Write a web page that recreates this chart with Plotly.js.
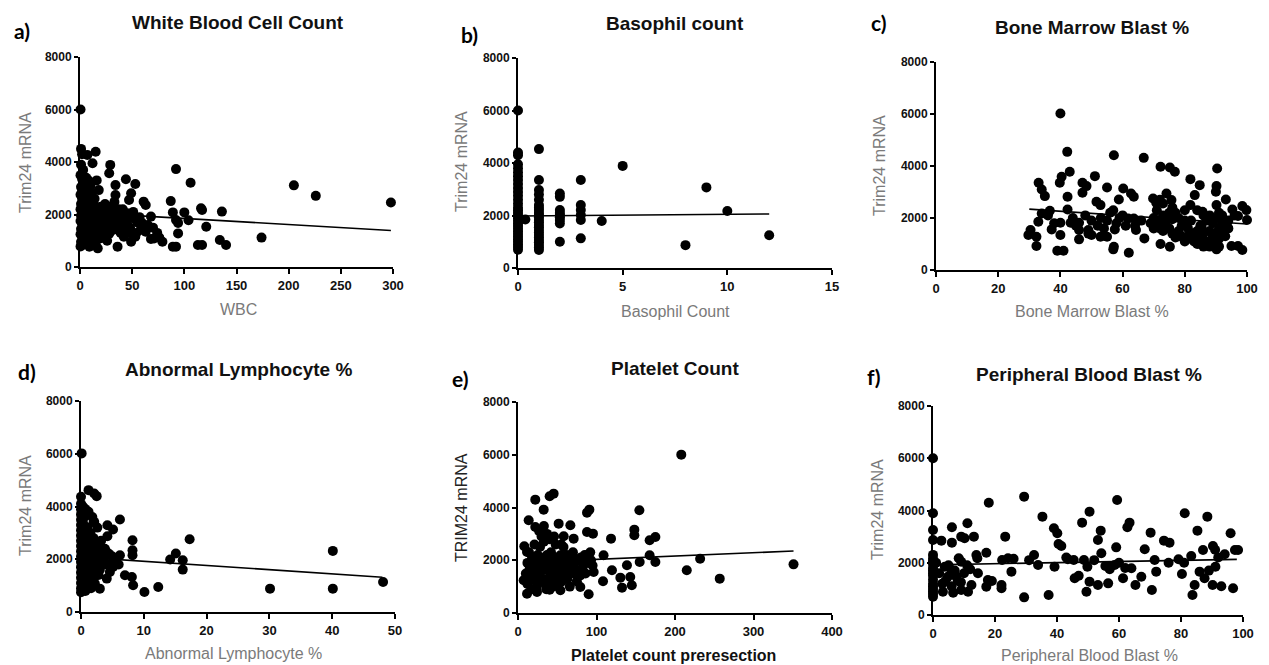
<!DOCTYPE html>
<html>
<head>
<meta charset="utf-8">
<script src="https://cdn.plot.ly/plotly-3.0.1.min.js"></script>
<style>html,body{margin:0;padding:0;background:#fff;}#chart{width:1269px;height:665px;}</style>
</head>
<body>
<div id="chart"></div>
<script>
// ---------- Data ----------
// a) White Blood Cell Count
const wbcX = [0.5,1,2,1,3,0.5,2,4,1,3, 0.5,2,5,1,3,0.5,2,4,1,3, 0.5,2,5,1,3,0.5,2,4,1,3,
  0.5,6,7,8,9,6,10,11,12,13, 8,10,14,7,12,15,18,16,20,22, 24,19,25,17,9,15,21,26,28,23,
  28,30,32,29,28,34,34,33,36,37, 36,40,42,44,44,45,47,49,49,50, 52,53,53,55,58,61,63,62,63,68,
  68,71,76,79,87,89,89,92,92,92, 94,94,100,104,106,113,116,117,117,121, 134,136,140,174,205,226,298,
  6,8,10,12,14,16,18,20,11,13, 5,7,9,3,24,26,30,38,41,46,
  3,5,7,9,11,13,15,17,19,21, 23,25,27,29,31,33,35,37,39,41, 43,46,48,51,54,57,59,65,70,74,
  6,10,14,20,26,2,4,8,5,16];
const wbcY = [6000,4500,4300,3900,3700,3500,3350,3200,3050,2900, 2750,2600,2500,2400,2300,2200,2100,2050,1950,1850,
  1750,1650,1550,1450,1350,1250,1150,1050,950,850,
  780,3400,2200,1800,2700,1200,3100,2000,1600,2400, 1000,1300,2200,4270,3950,4390,2930,1900,2300,1700,
  2100,1450,1200,710,775,890,2100,1800,2050,1530,
  1270,1600,2200,3890,3570,3120,2740,2480,2000,1400, 775,1900,1155,3340,1530,2050,2550,2810,965,1970,
  1850,3160,1155,1700,1410,2490,2360,1530,1340,1920,
  1070,1090,1120,965,2510,2080,775,775,3730,1790, 1280,1680,2080,1780,3210,840,2235,2170,840,1535,
  1030,2110,840,1120,3110,2710,2460,
  2600,2400,2200,1900,1700,1500,1300,1100,2800,1100, 900,1500,1900,3100,2400,1000,2300,1700,2200,1300,
  1600,2200,1900,1400,2300,1800,1300,2100,1700,1500, 2000,1800,1500,2100,1400,1800,1600,2200,1300,1700,
  2000,1800,1500,2100,1300,1900,1700,1600,1500,1300,
  1700,2500,2600,1900,2300,2900,2700,3300,3000,3300];
const wbcFitX = [0, 298];
const wbcFitY = [2080, 1390];

// b) Basophil count
const basoX = [0,0,0,0,0,0,0,0,0,0, 0,0,0,0,0,0,0,0,0,0, 0,0,0,0,0,0,0,0,0,0, 0, 0.35,
  1,1,1,1,1,1,1,1,1,1, 1,1,1,1,1,1,1,1,1,1, 1,1,1,1,
  2,2,2,2,2,2,2,2,2, 3,3,3,3,3,3, 4,5,8,9,10,12];
const basoY = [6000,4400,4300,3950,3800,3650,3500,3350,3200,3050, 2900,2750,2600,2450,2300,2200,2100,2000,1900,1800,
  1700,1600,1500,1400,1300,1200,1100,1000,900,800, 700, 1850,
  4530,3350,2970,2800,2600,2400,2300,2210,2100,2020, 1930,1830,1740,1640,1550,1450,1350,1260,1160,1070, 980,880,780,690,
  2840,2710,2210,2100,2020,1930,1830,1700,1000, 3350,2400,2210,2020,1830,1130, 1790,3890,870,3070,2170,1250];
const basoFitX = [0, 12];
const basoFitY = [1980, 2060];

// c) Bone Marrow Blast %
const bmX = [40,42.2,43,40.4,39.8,33,34,35,42.3,57.2, 66.8,51.1,47.1,48.4,47.1,55,60.2,62.7,63.6,58.8,
  51.6,52.9,42.3,36.6,34,30.4,29.7,32.3,32.3,32.9, 37.2,40,40,39,41,43.3,46,46,49,46,
  50,52.9,55,57.5,57.2,57,62,61.8,63.6,64.3, 67,69.8,70.8,72.2,72.2,75.2,76.8,74.1,75.7,73,
  75.2,81.8,84.8,83.2,81.8,85.7,90.4,90.2,90,90.2, 93.2,95.3,98.5,99.8,100,97.1,95,97.1,98.5,90.2, 85.4,
  70,71,72,73,74,75,76,72,78,79, 80,81,82,83,84,85,86,87,88,89, 90,91,92,88,86,84,76,77,80,78, 92,93,94,96,91,
  53,55,56,58,60,61,54,50,48,45, 44,38,36,49,52,57,59,66,64,
  71,73,74,75,77,79,81,82,83,84, 85,86,87,88,89,90,91,92,93,94, 78,80,69,70,76,72,85,89,91];
const bmY = [6016,4544,3776,3584,3354,3354,3098,2842,2816,4416, 4314,3610,3354,3226,2970,3174,3136,2944,2816,2714,
  2624,2496,2330,2278,2176,1536,1344,1280,922,1856, 1562,1818,1344,742,742,1818,1818,1536,1536,1178,
  1344,1280,1280,1562,896,794,666,1984,1984,1536, 1216,2752,2586,998,3968,3942,3776,2944,2688,2560,
  896,3494,3264,2880,2496,2240,3904,3226,3008,2496, 2714,2330,2458,2304,1920,2074,922,922,768,794, 1664,
  2000,1900,1800,2100,1700,2200,1950,1600,1500,1300, 1100,1600,1900,1400,1000,1200,900,1100,1500,1800, 2000,1600,1400,900,2100,2300,1400,1250,2300,2000, 2100,1700,1900,2100,1200,
  2000,1900,2200,1800,2100,1700,1600,1900,2100,1700, 2000,1800,2100,1400,1700,2300,2000,1900,1700,
  2300,1500,1900,1600,2200,1700,1300,1200,1100,1500, 1700,1400,1900,2100,1300,1400,2200,1800,1300,1600, 1300,1900,1800,1600,2400,2700,1000,1000,900];
const bmFitX = [30, 100];
const bmFitY = [2340, 1770];

// d) Abnormal Lymphocyte %
const lymX = [0.1,0,1.2,2.1,2.5,1.2,2.1,4.2,5.1,6.2, 4.2,8.2,17.3,8.2,8.2,6.2,3.6,14.2,15.1,16.2,
  16.2,40.1,40.1,30.1,48.1,12.3,10.1,8.3,8.1,7, 5.1,4.6,4.1,3,2.2,0.9,2,
  0,0,0,0,0,0,0,0,0,0, 0,0,0,0,0,0,0,0,
  0.5,0.5,0.5,0.5,1,1,1,1,1,1, 1,1.5,1.5,1.5,1.5,2,2,2,2,2, 2.5,2.5,3,3,3,3.5,4,4,5,5,6,
  0.3,0.3,0.3,0.3,0.3,0.7,0.7,0.7,0.7,0.7, 1.2,1.2,1.2,1.8,1.8,1.8,2.6,2.6,3.2,3.8, 4.5,2.8,1.6];
const lymY = [6013,4370,4620,4494,4393,3798,3418,3292,3127,3507, 2874,2722,2760,2342,2152,2152,2279,1988,2216,1962,
  1608,2317,886,886,1139,950,760,1013,1329,1393, 1709,1519,1266,886,1076,1519,1709,
  4100,3900,3700,3500,3300,3100,2900,2700,2500,2300, 2100,1900,1700,1500,1300,1100,900,750,
  3600,2800,2000,1200,3700,3200,2600,2200,1800,1400, 1000,3000,2400,1900,1600,3400,2800,2300,2000,1300, 2100,1700,2300,1900,1600,2000,2300,1800,1900,2100,1800,
  4000,3400,2600,1600,1000,3900,3000,2400,1700,800, 2900,2000,1200,3600,2500,1500,3200,2600,2700,2400, 2200,1400,900];
const lymFitX = [0, 48];
const lymFitY = [2080, 1320];

// e) Platelet Count
const pltX = [208,154.6,148.2,148.2,167.7,175,118.5,87.9,90.9,87.9, 95.5,232,215,257,351,45.4,40.3,22,32.7,13.6,
  22,51.8,66.7,70.9,58.2,8,11.5,109,167.7,175, 155,138.8,119.7,130.4,143,145,132.5,108.3,96.4,90,
  79.4,79.4,68.8,54,54,40.3,24.2,11.5,7.2,15.7, 28.4,41.2,45.4,32.7,20,
  15,20,25,30,35,38,42,45,48,50, 55,60,62,65,70,72,75,78,82,85, 88,92,95,28,33,18,12,24,36,44, 56,66,58,48,40,30,
  14,16,19,21,23,26,27,29,31,34, 35,37,39,41,43,44,47,49,52,53, 57,59,61,63,67,69,71,73,76,80,
  83,86,89,93,10,12,17,21,27,33, 37,46,55];
const pltY = [6004,3893,3160,2945,2756,2882,2819,3805,3918,3072, 3008,2060,1618,1302,1845,4525,4424,4298,3918,3514,
  3261,3388,3324,2819,2907,2528,2313,2187,2187,1934, 1934,1808,1618,1340,1365,1049,961,1201,1555,708,
  986,1428,1896,2187,860,885,796,733,1239,1492, 1744,1934,1492,1176,1997,
  1700,1400,2200,1600,2000,1300,2300,1800,1100,1600, 1900,1400,2200,1700,2300,1500,1200,2000,1700,2200, 1900,2300,1800,2500,2700,2100,1900,1000,900,1000, 1200,1000,2500,2600,2800,2900,
  2300,1300,1800,1600,1200,1900,1400,2100,1300,1700, 1100,2200,1600,1200,1900,1400,2100,1300,1800,2000, 1500,1700,1900,1300,1500,2100,1800,2000,1600,2100,
  1900,1500,2200,2000,1500,1100,900,2600,3100,3300, 3000,2900,2600];
const pltFitX = [10, 351];
const pltFitY = [1920, 2350];

// f) Peripheral Blood Blast %
const pbX = [0,0,0,2.7,6.1,6.1,9.1,11.1,10.2,13.2, 18,23.3,17.2,8.3,14.3,22.3,24.2,25.3,29.4,35.3,
  39,40.1,40.5,41.4,32.6,33.9,39.2,43.5,45.4,45.7, 48.1,50.5,48.7,49.8,49.5,50.5,53.2,54.1,53.2,54.3,
  55.6,56.5,59.4,59.1,58.6,61.3,62.7,63.4,64,65.3, 67.2,68.3,70.2,70.6,71.5,72,74.5,76.3,79.2,80.3,
  81.2,83.3,84.4,83.7,85.3,87.1,88.5,90.3,91.1,86, 87.6,90.2,94.1,96,96.8,97.4,98.4,37.3,29.4,22.1,
  22.1,17.7,17.2,14.5,12.4,11.3,9.1,6.5,3.2,5.9, 4.8,7.5,3.8,9.1,14,
  0,0,0,0,0,0,0,0,0,0, 0,0,0,0,0,0,
  2,4,5,7,8,10,11,1,3,6,9,12,
  60,57,52,47,31,19,26,76,91,92, 89,81,43,93,57,62];
const pbY = [3892,3254,2871,2846,3356,2769,3000,3509,2935,3000, 4299,3000,2386,2169,2169,2105,2169,1659,4530,3765,
  3318,3127,2718,2641,2297,1914,1850,2131,2105,1404, 3535,3956,2105,1850,893,1276,1149,3229,2871,2361,
  1876,1212,4402,2590,1914,1404,3356,3535,1787,1149, 1467,2514,3152,957,2105,1659,2846,2769,2131,1570,
  3892,2258,1149,765,3229,2488,3765,2641,1850,1659, 1404,1149,2327,3127,1021,2488,2488,765,676,1149,
  1021,1340,1085,1595,1149,893,957,855,893,1723, 1467,1467,1850,2041,2297,
  6000,2300,2150,2050,1950,1800,1700,1600,1500,1350, 1200,1100,1000,900,800,700,
  1600,1300,1900,1700,1300,1600,1900,2000,1200,1100,1250,1750,
  2000,1750,2100,1500,2100,1300,2150,2000,2500,2200, 1700,2000,2200,1100,1850,1800];
const pbFitX = [0, 98];
const pbFitY = [1920, 2130];

// Titles and labels
const panelLetters = ["a)", "b)", "c)", "d)", "e)", "f)"];
const panelTitles = ["White Blood Cell Count", "Basophil count", "Bone Marrow Blast %",
                     "Abnormal Lymphocyte %", "Platelet Count", "Peripheral Blood Blast %"];
const xTitles = ["WBC", "Basophil Count", "Bone Marrow Blast %",
                 "Abnormal Lymphocyte %", "Platelet count preresection", "Peripheral Blood Blast %"];
const yTitles = ["Trim24 mRNA", "Trim24 mRNA", "Trim24 mRNA", "Trim24 mRNA", "TRIM24 mRNA", "Trim24 mRNA"];
const xMax = [300, 15, 100, 50, 400, 100];
const xStep = [50, 5, 20, 10, 100, 20];
const yTicks = [0, 2000, 4000, 6000, 8000];

// ---------- Layout geometry (pixels) ----------
const W = 1269, H = 665;
const series = [
  [wbcX, wbcY, wbcFitX, wbcFitY],
  [basoX, basoY, basoFitX, basoFitY],
  [bmX, bmY, bmFitX, bmFitY],
  [lymX, lymY, lymFitX, lymFitY],
  [pltX, pltY, pltFitX, pltFitY],
  [pbX, pbY, pbFitX, pbFitY]
];
const geom = [
  {x0: 80, x1: 393, y0: 57, y1: 267, letter: [22, 31], title: [238, 23], xt: [238, 309], yt: [26, 162]},
  {x0: 518, x1: 832, y0: 58, y1: 268, letter: [469, 35], title: [675, 24], xt: [675, 311], yt: [462, 162]},
  {x0: 936, x1: 1247, y0: 62, y1: 270, letter: [879, 23], title: [1092, 27], xt: [1092, 311], yt: [879, 166]},
  {x0: 81, x1: 395, y0: 401, y1: 612, letter: [27, 372], title: [238, 369], xt: [234, 653], yt: [25, 506]},
  {x0: 518, x1: 832, y0: 402, y1: 613, letter: [460, 378], title: [675, 368], xt: [673, 655], yt: [461, 508]},
  {x0: 933, x1: 1243, y0: 406, y1: 615, letter: [873, 376], title: [1089, 374], xt: [1089, 655], yt: [877, 510]}
];

const px = v => v / W;
const py = v => 1 - v / H;

const traces = [];
const layout = {
  width: W, height: H,
  margin: {l: 0, r: 0, t: 0, b: 0},
  paper_bgcolor: "#fff", plot_bgcolor: "rgba(0,0,0,0)",
  showlegend: false,
  annotations: []
};

const xTickFont = {family: "Liberation Sans, Arial, sans-serif", size: 13, color: "#111", weight: "bold"};
const yTickFont = {family: "Liberation Sans, Arial, sans-serif", size: 12, color: "#111", weight: "bold"};

series.forEach((s, i) => {
  const g = geom[i];
  const n = i === 0 ? "" : String(i + 1);
  const xa = "x" + n, ya = "y" + n;
  traces.push({
    type: "scatter", mode: "markers", x: s[0], y: s[1], xaxis: xa, yaxis: ya,
    marker: {color: "#000", size: 10, line: {width: 0}}, cliponaxis: false, hoverinfo: "skip"
  });
  traces.push({
    type: "scatter", mode: "lines", x: s[2], y: s[3], xaxis: xa, yaxis: ya,
    line: {color: "#000", width: 1.6}, cliponaxis: false, hoverinfo: "skip"
  });
  const xt = [];
  for (let v = 0; v <= xMax[i]; v += xStep[i]) xt.push(v);
  layout["xaxis" + n] = {
    domain: [px(g.x0), px(g.x1)], anchor: ya, range: [0, xMax[i]],
    tickvals: xt, showgrid: false, zeroline: false,
    showline: true, linecolor: "#000", linewidth: 2,
    ticks: "outside", ticklen: 5, tickwidth: 2, tickcolor: "#000",
    tickfont: xTickFont, fixedrange: true
  };
  layout["yaxis" + n] = {
    domain: [py(g.y1), py(g.y0)], anchor: xa, range: [0, 8000],
    tickvals: yTicks, showgrid: false, zeroline: false,
    showline: true, linecolor: "#000", linewidth: 2,
    ticks: "outside", ticklen: 4, tickwidth: 2, tickcolor: "#000",
    tickfont: yTickFont, fixedrange: true
  };
  const isE = i === 4;
  layout.annotations.push(
    {text: panelLetters[i], xref: "paper", yref: "paper", x: px(g.letter[0]), y: py(g.letter[1]),
     xanchor: "center", yanchor: "middle", showarrow: false,
     font: {family: "Lato, Open Sans, sans-serif", size: 21, color: "#000", weight: "bold"}},
    {text: panelTitles[i], xref: "paper", yref: "paper", x: px(g.title[0]), y: py(g.title[1]),
     xanchor: "center", yanchor: "middle", showarrow: false,
     font: {family: "Liberation Sans, Arial, sans-serif", size: 19, color: "#111", weight: "bold"}},
    {text: xTitles[i], xref: "paper", yref: "paper", x: px(g.xt[0]), y: py(g.xt[1]),
     xanchor: "center", yanchor: "middle", showarrow: false,
     font: isE ? {family: "Liberation Sans, Arial, sans-serif", size: 16, color: "#111", weight: "bold"}
               : {family: "Liberation Sans, Arial, sans-serif", size: 16, color: "#7a7a7a"}},
    {text: yTitles[i], xref: "paper", yref: "paper", x: px(g.yt[0]), y: py(g.yt[1]),
     xanchor: "center", yanchor: "middle", showarrow: false, textangle: -90,
     font: {family: "Liberation Sans, Arial, sans-serif", size: 16, color: isE ? "#222" : "#7a7a7a"}}
  );
});

Plotly.newPlot("chart", traces, layout, {displayModeBar: false, staticPlot: true});
</script>
</body>
</html>
